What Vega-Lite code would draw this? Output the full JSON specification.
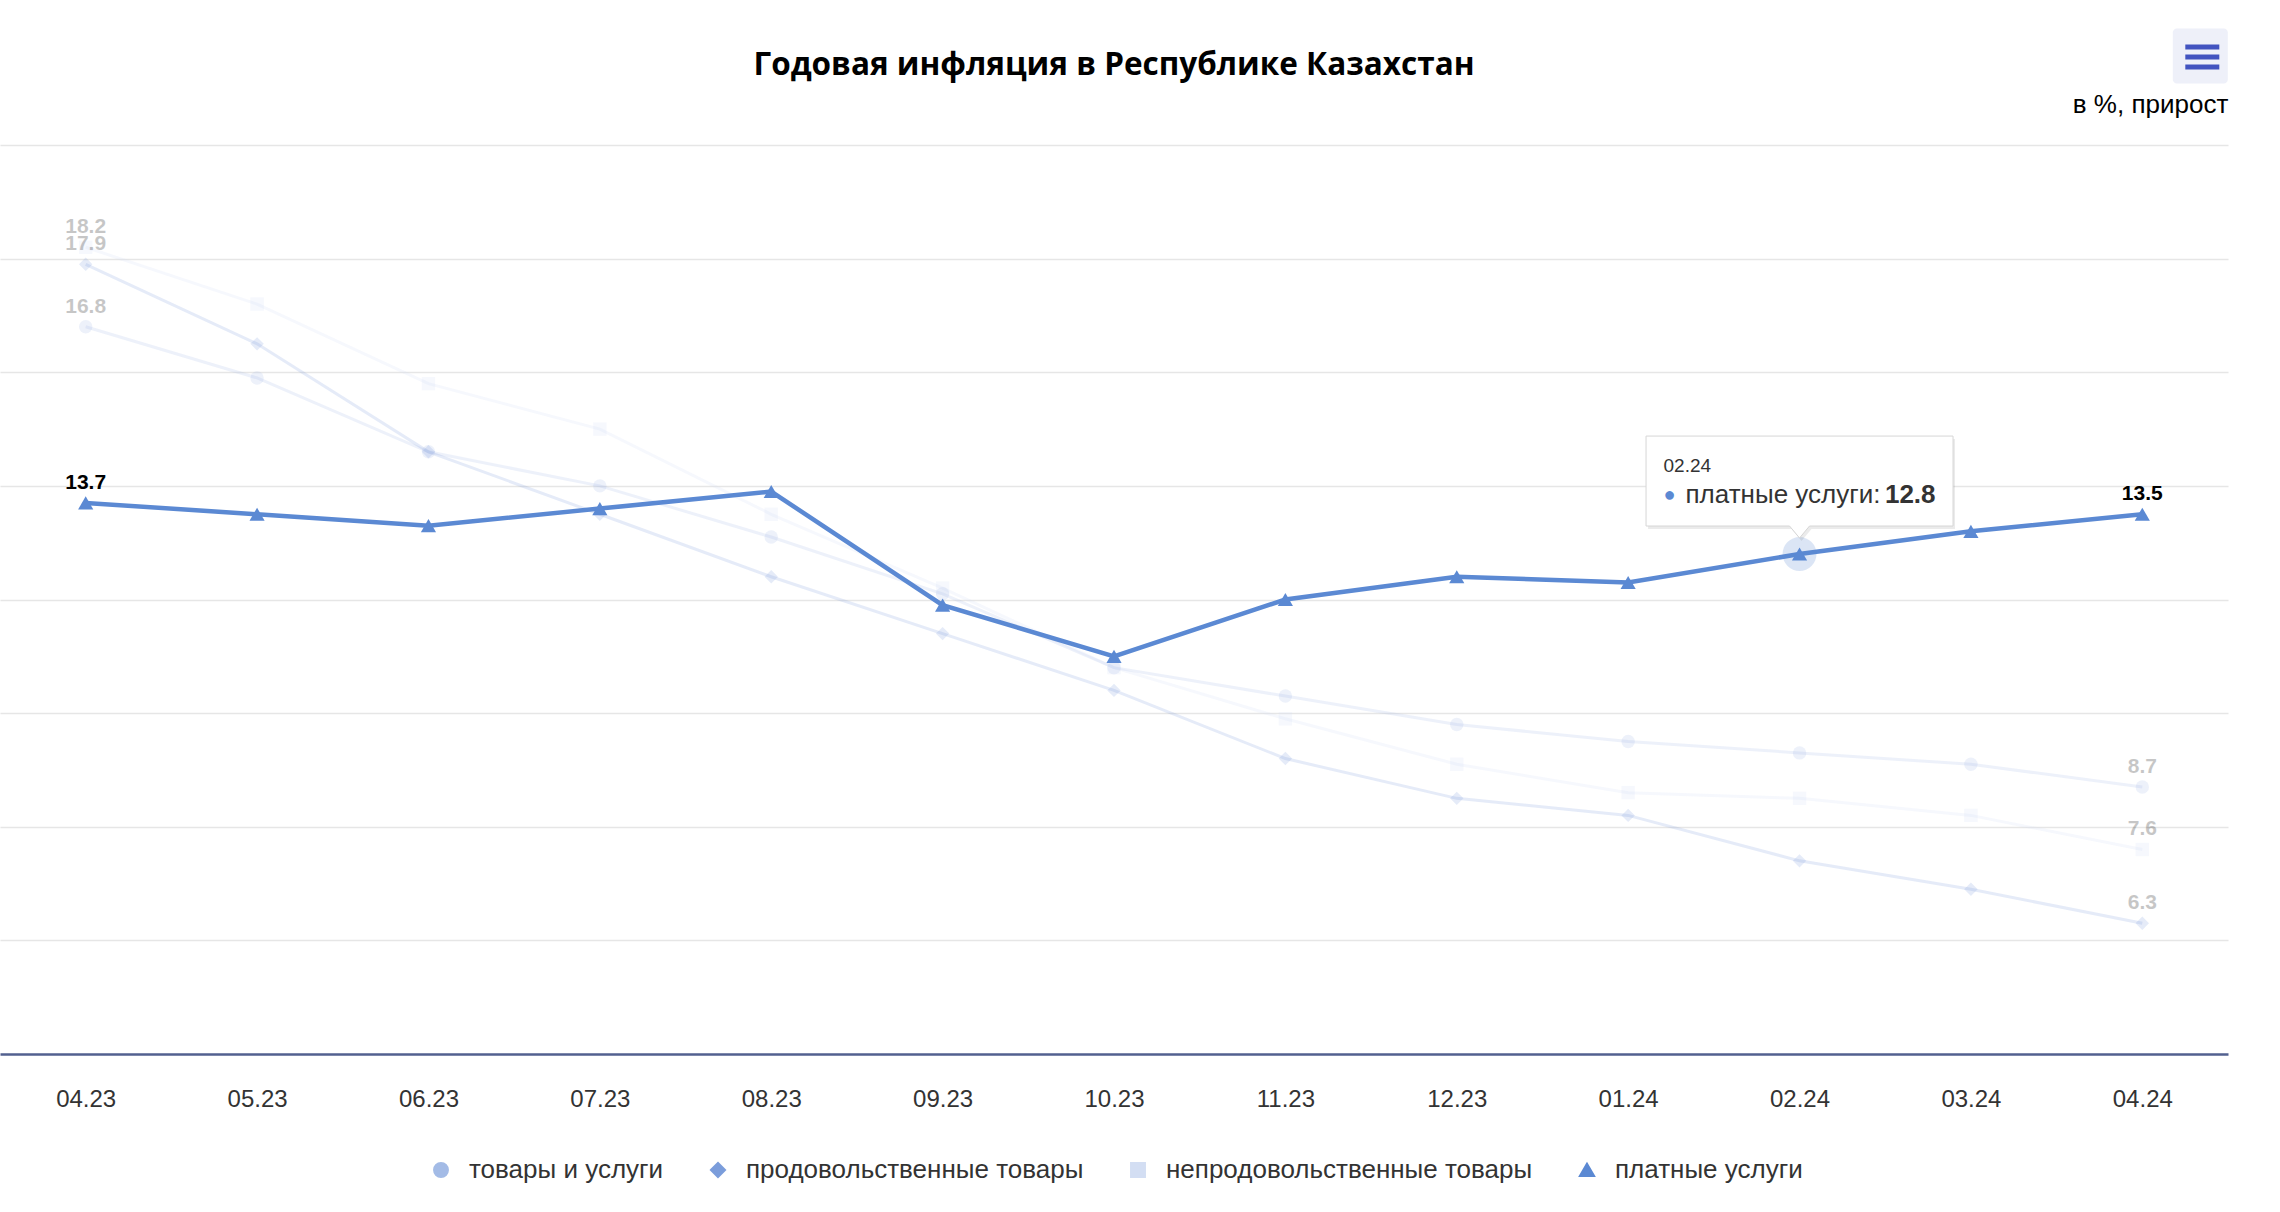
{
  "$schema": "https://vega.github.io/schema/vega-lite/v6.json",
  "width": 2228,
  "height": 909,
  "autosize": {"type": "none"},
  "padding": {"left": 0, "top": 145, "right": 52, "bottom": 158},
  "background": "white",
  "title": {
    "text": "Годовая инфляция в Республике Казахстан",
    "font": "Open Sans",
    "fontSize": 31.5,
    "fontWeight": 700,
    "color": "#000000",
    "anchor": "middle",
    "frame": "group",
    "offset": -53
  },
  "config": {
    "view": {"stroke": null},
    "legend": {
      "orient": "none",
      "legendX": 428,
      "legendY": 1012,
      "direction": "horizontal",
      "title": null,
      "labelFont": "Liberation Sans",
      "labelFontSize": 26,
      "labelColor": "#333333",
      "labelLimit": 600,
      "symbolSize": 180,
      "symbolOpacity": 1,
      "columnPadding": 41,
      "labelOffset": 15
    }
  },
  "data": {
    "values": [
      {"month": "04.23", "series": "товары и услуги", "value": 16.8},
      {"month": "05.23", "series": "товары и услуги", "value": 15.9},
      {"month": "06.23", "series": "товары и услуги", "value": 14.6},
      {"month": "07.23", "series": "товары и услуги", "value": 14.0},
      {"month": "08.23", "series": "товары и услуги", "value": 13.1},
      {"month": "09.23", "series": "товары и услуги", "value": 12.1},
      {"month": "10.23", "series": "товары и услуги", "value": 10.8},
      {"month": "11.23", "series": "товары и услуги", "value": 10.3},
      {"month": "12.23", "series": "товары и услуги", "value": 9.8},
      {"month": "01.24", "series": "товары и услуги", "value": 9.5},
      {"month": "02.24", "series": "товары и услуги", "value": 9.3},
      {"month": "03.24", "series": "товары и услуги", "value": 9.1},
      {"month": "04.24", "series": "товары и услуги", "value": 8.7},
      {"month": "04.23", "series": "продовольственные товары", "value": 17.9},
      {"month": "05.23", "series": "продовольственные товары", "value": 16.5},
      {"month": "06.23", "series": "продовольственные товары", "value": 14.6},
      {"month": "07.23", "series": "продовольственные товары", "value": 13.5},
      {"month": "08.23", "series": "продовольственные товары", "value": 12.4},
      {"month": "09.23", "series": "продовольственные товары", "value": 11.4},
      {"month": "10.23", "series": "продовольственные товары", "value": 10.4},
      {"month": "11.23", "series": "продовольственные товары", "value": 9.2},
      {"month": "12.23", "series": "продовольственные товары", "value": 8.5},
      {"month": "01.24", "series": "продовольственные товары", "value": 8.2},
      {"month": "02.24", "series": "продовольственные товары", "value": 7.4},
      {"month": "03.24", "series": "продовольственные товары", "value": 6.9},
      {"month": "04.24", "series": "продовольственные товары", "value": 6.3},
      {"month": "04.23", "series": "непродовольственные товары", "value": 18.2},
      {"month": "05.23", "series": "непродовольственные товары", "value": 17.2},
      {"month": "06.23", "series": "непродовольственные товары", "value": 15.8},
      {"month": "07.23", "series": "непродовольственные товары", "value": 15.0},
      {"month": "08.23", "series": "непродовольственные товары", "value": 13.5},
      {"month": "09.23", "series": "непродовольственные товары", "value": 12.2},
      {"month": "10.23", "series": "непродовольственные товары", "value": 10.8},
      {"month": "11.23", "series": "непродовольственные товары", "value": 9.9},
      {"month": "12.23", "series": "непродовольственные товары", "value": 9.1},
      {"month": "01.24", "series": "непродовольственные товары", "value": 8.6},
      {"month": "02.24", "series": "непродовольственные товары", "value": 8.5},
      {"month": "03.24", "series": "непродовольственные товары", "value": 8.2},
      {"month": "04.24", "series": "непродовольственные товары", "value": 7.6},
      {"month": "04.23", "series": "платные услуги", "value": 13.7},
      {"month": "05.23", "series": "платные услуги", "value": 13.5},
      {"month": "06.23", "series": "платные услуги", "value": 13.3},
      {"month": "07.23", "series": "платные услуги", "value": 13.6},
      {"month": "08.23", "series": "платные услуги", "value": 13.9},
      {"month": "09.23", "series": "платные услуги", "value": 11.9},
      {"month": "10.23", "series": "платные услуги", "value": 11.0},
      {"month": "11.23", "series": "платные услуги", "value": 12.0},
      {"month": "12.23", "series": "платные услуги", "value": 12.4},
      {"month": "01.24", "series": "платные услуги", "value": 12.3},
      {"month": "02.24", "series": "платные услуги", "value": 12.8},
      {"month": "03.24", "series": "платные услуги", "value": 13.2},
      {"month": "04.24", "series": "платные услуги", "value": 13.5}
    ]
  },
  "encoding": {
    "x": {
      "field": "month",
      "type": "ordinal",
      "sort": ["04.23","05.23","06.23","07.23","08.23","09.23","10.23","11.23","12.23","01.24","02.24","03.24","04.24"],
      "scale": {"type": "point", "padding": 0.5},
      "axis": {
        "title": null,
        "labelAngle": 0,
        "labelFont": "Liberation Sans",
        "labelFontSize": 24,
        "labelColor": "#333333",
        "labelPadding": 33,
        "ticks": false,
        "grid": false,
        "domainColor": "#52608f",
        "domainWidth": 2.5
      }
    },
    "y": {
      "field": "value",
      "type": "quantitative",
      "scale": {"domain": [4, 20], "nice": false, "zero": false},
      "axis": {
        "title": null,
        "labels": false,
        "ticks": false,
        "domain": false,
        "grid": true,
        "gridColor": "#e6e6e6",
        "gridWidth": 1.5,
        "values": [6, 8, 10, 12, 14, 16, 18, 20]
      }
    }
  },
  "layer": [
    {
      "transform": [{"filter": "datum.series !== 'платные услуги'"}],
      "mark": {"type": "line", "strokeWidth": 3, "opacity": 0.2},
      "encoding": {
        "color": {
          "field": "series",
          "type": "nominal",
          "scale": {
            "domain": ["товары и услуги", "продовольственные товары", "непродовольственные товары", "платные услуги"],
            "range": ["#a3bbe6", "#7b9ddb", "#d3def3", "#5b89d3"]
          },
          "sort": ["товары и услуги", "продовольственные товары", "непродовольственные товары", "платные услуги"]
        }
      }
    },
    {
      "transform": [{"filter": "datum.series !== 'платные услуги'"}],
      "mark": {"type": "point", "filled": true, "size": 180, "opacity": 0.2},
      "encoding": {
        "color": {"field": "series", "type": "nominal"},
        "shape": {
          "field": "series",
          "type": "nominal",
          "scale": {
            "domain": ["товары и услуги", "продовольственные товары", "непродовольственные товары", "платные услуги"],
            "range": ["circle", "diamond", "square", "triangle-up"]
          },
          "sort": ["товары и услуги", "продовольственные товары", "непродовольственные товары", "платные услуги"],
          "legend": {
            "symbolStrokeWidth": 2.5,
            "encode": {
              "symbols": {
                "update": {
                  "shape": {"signal": "datum.value === 'товары и услуги' ? 'M-2.2,0 L2.2,0 M1,0 A1,1 0 1 1 -1,0 A1,1 0 1 1 1,0 Z' : datum.value === 'продовольственные товары' ? 'M-2.2,0 L2.2,0 M0,-1.15 L1.15,0 L0,1.15 L-1.15,0 Z' : datum.value === 'непродовольственные товары' ? 'M-2.2,0 L2.2,0 M-0.9,-0.9 L0.9,-0.9 L0.9,0.9 L-0.9,0.9 Z' : 'M-2.2,0 L2.2,0 M0,-1.05 L1.05,0.8 L-1.05,0.8 Z'"},
                  "stroke": {"signal": "scale('color', datum.value)"},
                  "strokeWidth": {"value": 2.5}
                }
              }
            }
          }
        }
      }
    },
    {
      "transform": [
        {"filter": "datum.series !== 'платные услуги'"},
        {"filter": "datum.month === '04.23' || datum.month === '04.24'"}
      ],
      "mark": {"type": "text", "font": "Liberation Sans", "fontSize": 21, "fontWeight": "bold", "color": "#000000", "opacity": 0.22, "dy": -20},
      "encoding": {"text": {"field": "value", "type": "quantitative", "format": ".1f"}}
    },
    {
      "transform": [{"filter": "datum.series === 'платные услуги'"}],
      "mark": {"type": "line", "strokeWidth": 4.5},
      "encoding": {"color": {"field": "series", "type": "nominal"}}
    },
    {
      "transform": [{"filter": "datum.series === 'платные услуги' && datum.month === '02.24'"}],
      "mark": {"type": "point", "shape": "circle", "filled": true, "size": 1150, "color": "#5b89d3", "opacity": 0.22}
    },
    {
      "transform": [{"filter": "datum.series === 'платные услуги'"}],
      "mark": {"type": "point", "filled": true, "size": 230, "opacity": 1},
      "encoding": {
        "color": {"field": "series", "type": "nominal"},
        "shape": {"field": "series", "type": "nominal"}
      }
    },
    {
      "transform": [
        {"filter": "datum.series === 'платные услуги'"},
        {"filter": "datum.month === '04.23' || datum.month === '04.24'"}
      ],
      "mark": {"type": "text", "font": "Liberation Sans", "fontSize": 21, "fontWeight": "bold", "color": "#000000", "dy": -20},
      "encoding": {"text": {"field": "value", "type": "quantitative", "format": ".1f"}}
    },
    {
      "transform": [{"filter": "datum.series === 'платные услуги' && datum.month === '02.24'"}],
      "mark": {
        "type": "point",
        "shape": "M-1,-0.293 L1,-0.293 L1,0.293 L0.065,0.293 L0,0.371 L-0.065,0.293 L-1,0.293 Z",
        "size": 94249,
        "filled": true,
        "color": "#000000",
        "opacity": 0.08,
        "xOffset": 2,
        "yOffset": -70
      }
    },
    {
      "transform": [{"filter": "datum.series === 'платные услуги' && datum.month === '02.24'"}],
      "mark": {
        "type": "point",
        "shape": "M-1,-0.293 L1,-0.293 L1,0.293 L0.065,0.293 L0,0.371 L-0.065,0.293 L-1,0.293 Z",
        "size": 94249,
        "filled": true,
        "fill": "#ffffff",
        "fillOpacity": 1,
        "stroke": "#d6d6d6",
        "strokeWidth": 1,
        "opacity": 1,
        "yOffset": -73
      }
    },
    {
      "transform": [{"filter": "datum.series === 'платные услуги' && datum.month === '02.24'"}],
      "mark": {"type": "text", "font": "Liberation Sans", "fontSize": 19, "color": "#333333", "align": "left", "baseline": "middle", "dx": -136, "dy": -88},
      "encoding": {"text": {"field": "month", "type": "nominal"}}
    },
    {
      "transform": [{"filter": "datum.series === 'платные услуги' && datum.month === '02.24'"}],
      "mark": {"type": "text", "font": "Liberation Sans", "fontSize": 20, "color": "#5b89d3", "align": "center", "baseline": "middle", "dx": -130, "dy": -59, "text": "●"}
    },
    {
      "transform": [{"filter": "datum.series === 'платные услуги' && datum.month === '02.24'"}],
      "mark": {"type": "text", "font": "Liberation Sans", "fontSize": 26, "color": "#333333", "align": "left", "baseline": "middle", "dx": -114, "dy": -59, "text": "платные услуги:"}
    },
    {
      "transform": [{"filter": "datum.series === 'платные услуги' && datum.month === '02.24'"}],
      "mark": {"type": "text", "font": "Liberation Sans", "fontSize": 26, "fontWeight": "bold", "color": "#333333", "align": "right", "baseline": "middle", "dx": 136, "dy": -59},
      "encoding": {"text": {"field": "value", "type": "quantitative", "format": ".1f"}}
    },
    {
      "transform": [{"filter": "datum.series === 'платные услуги' && datum.month === '04.24'"}],
      "mark": {"type": "text", "font": "Liberation Sans", "fontSize": 26, "color": "#000000", "align": "right", "baseline": "middle", "dx": 86, "dy": -40, "text": "в %, прирост"},
      "encoding": {"y": {"datum": 20, "type": "quantitative"}}
    },
    {
      "transform": [{"filter": "datum.series === 'платные услуги' && datum.month === '04.24'"}],
      "mark": {
        "type": "point",
        "shape": "M-0.855,-1 L0.855,-1 A0.145,0.145 0 0 1 1,-0.855 L1,0.855 A0.145,0.145 0 0 1 0.855,1 L-0.855,1 A0.145,0.145 0 0 1 -1,0.855 L-1,-0.855 A0.145,0.145 0 0 1 -0.855,-1 Z",
        "size": 3025,
        "filled": true,
        "color": "#eef0f9",
        "opacity": 1,
        "xOffset": 58,
        "yOffset": -89
      },
      "encoding": {"y": {"datum": 20, "type": "quantitative"}}
    },
    {
      "transform": [{"filter": "datum.series === 'платные услуги' && datum.month === '04.24'"}],
      "mark": {
        "type": "point",
        "shape": "M-1,-0.735 L1,-0.735 L1,-0.441 L-1,-0.441 Z M-1,-0.147 L1,-0.147 L1,0.147 L-1,0.147 Z M-1,0.441 L1,0.441 L1,0.735 L-1,0.735 Z",
        "size": 1156,
        "filled": true,
        "color": "#4254c0",
        "opacity": 1,
        "xOffset": 60,
        "yOffset": -88
      },
      "encoding": {"y": {"datum": 20, "type": "quantitative"}}
    }
  ]
}
